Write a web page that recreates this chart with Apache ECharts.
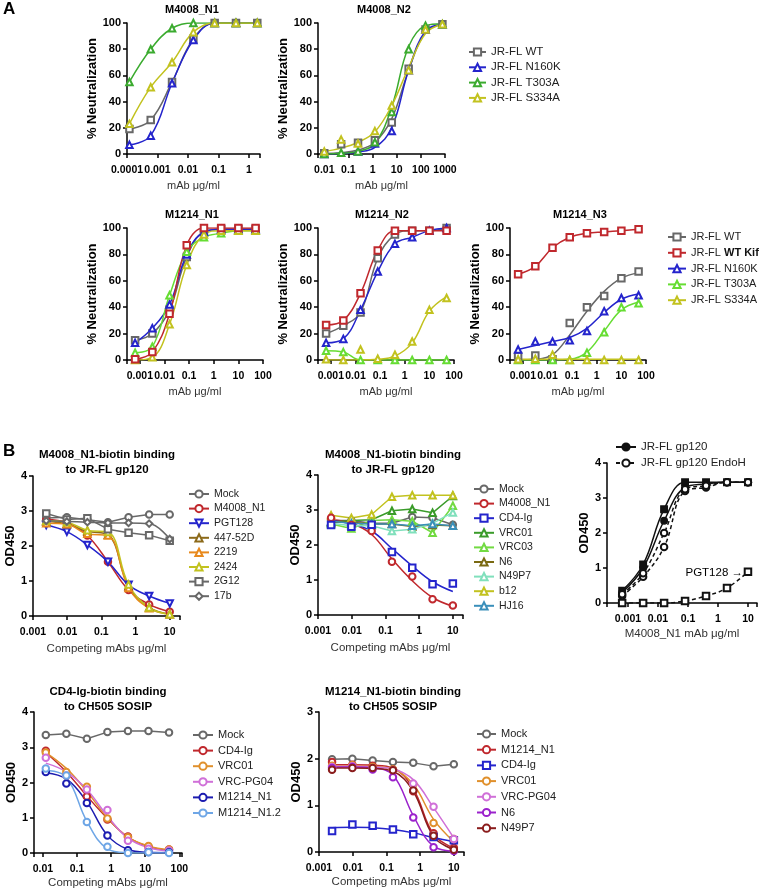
<!DOCTYPE html>
<html><head><meta charset="utf-8">
<script src="https://cdn.jsdelivr.net/npm/echarts@6/dist/echarts.min.js"></script>
<style>html,body{margin:0;padding:0;background:#fff}#c{width:763px;height:894px}</style>
</head><body><div id="c"></div>
<script>
// ================= DATA =================
// A, top-left: M4008_N1
const xM4008N1 = [0.00012, 0.0006, 0.003, 0.015, 0.075, 0.375, 1.875];
const n1WT    = [19, 26, 55, 88, 100, 100, 100];
const n1N160K = [7, 14, 54, 87, 100, 100, 100];
const n1T303A = [55, 80, 96, 100, 100, 100, 100];
const n1S334A = [23, 51, 70, 93, 100, 100, 100];
// A, top-middle: M4008_N2
const xM4008N2 = [0.01, 0.05, 0.25, 1.25, 6.25, 31.25, 156, 781];
const n2WT       = [0.5, 7.5, 8.5, 10.5, 24, 65, 95, 99];
const n2WTfit    = [0.3, 1, 3, 9, 27, 64, 93, 99];
const n2N160K    = [0, -1, 2, 8, 17.5, 64, 95, 99];
const n2N160Kfit = [0, 0.3, 1.5, 5, 20, 64, 94, 99];
const n2T303A    = [0, 1, 2, 9, 32, 80, 98, 99];
const n2T303Afit = [0, 0.5, 2, 8, 36, 82, 98, 99.5];
const n2S334A    = [2, 11, 8, 17.5, 37, 64, 95, 99];
const n2S334Afit = [2, 4.5, 9, 17, 37, 66, 92, 99];
// A, bottom row: M1214_N1 / N2 / N3
const xM1214 = [0.00064, 0.0032, 0.016, 0.08, 0.4, 2, 10, 50];
const m1WT    = [15, 20, 38, 78, 97, 99, 99, 99];
const m1Kif   = [0.5, 6, 35, 87, 100, 100, 100, 100];
const m1N160K = [13, 24, 42, 80, 97, 99, 99, 99];
const m1T303A = [5.5, 10, 49, 82, 93, 96, 98, 98];
const m1S334A = [0, 2, 27, 72, 95, 98, 98, 98];
const m2WT    = [20, 26, 36, 77, 95, 98, 98, 100];
const m2Kif   = [26.5, 30, 50.5, 83, 98, 98, 98, 98];
const m2N160K = [13, 16, 38, 67, 88, 93, 98, 100];
const m2T303A = [7, 6, 0, 0, 0, 0, 0, 0];
const m2S334A = [0.5, 0, 8, 1, 4, 14, 38, 47];
const m2S334Afit = [0, 0, 0, 0.5, 3, 13, 37, 48];
const m3WT    = [3, 3.5, 0.5, 28, 40, 48.5, 62, 67];
const m3WTfit = [0, 0.5, 4, 19, 37, 52, 62, 66];
const m3Kif   = [65, 71, 85, 93, 96, 97, 98, 99];
const m3N160K = [8, 14, 14, 15, 22, 37, 47, 49];
const m3N160Kfit = [8, 11, 14, 17, 24, 36, 46, 50];
const m3T303A = [0, 0, 0, 0, 5.5, 21, 40, 43];
const m3T303Afit = [0, 0, 0, 0.5, 6, 22, 38, 44];
const m3S334A = [0.5, 1, 4, 0, 0, 0, 0, 0];
const m3S334Afit = [0.5, 0.5, 0.5, 0.5, 0.5, 0.5, 0.5, 0.5];
// B, top-left: M4008_N1-biotin binding to JR-FL gp120
const xB1 = [0.00244, 0.00977, 0.039, 0.156, 0.625, 2.5, 10];
const b1Mock  = [2.8, 2.82, 2.75, 2.68, 2.82, 2.9, 2.9];
const b1N1    = [2.76, 2.67, 2.3, 1.55, 0.74, 0.33, 0.12];
const b1PGT128 = [2.6, 2.41, 2.03, 1.55, 0.89, 0.57, 0.36];
const b1_447  = [2.7, 2.63, 2.42, 2.32, 0.85, 0.25, 0.05];
const b1_2219 = [2.65, 2.62, 2.35, 2.3, 0.8, 0.22, 0.05];
const b1_2424 = [2.72, 2.68, 2.45, 2.4, 0.9, 0.24, 0.05];
const b1_2G12 = [2.93, 2.76, 2.79, 2.48, 2.38, 2.31, 2.15];
const b1_17b  = [2.72, 2.7, 2.68, 2.66, 2.66, 2.64, 2.2];
// B, top-middle
const xB2 = [0.00244, 0.00977, 0.039, 0.156, 0.625, 2.5, 10];
const b2Mock  = [2.7, 2.7, 2.62, 2.62, 2.8, 2.78, 2.58];
const b2N1    = [2.78, 2.57, 2.4, 1.52, 1.1, 0.45, 0.27];
const b2N1fit = [2.72, 2.62, 2.3, 1.6, 0.98, 0.5, 0.25];
const b2CD4   = [2.57, 2.52, 2.58, 1.8, 1.35, 0.88, 0.9];
const b2CD4fit = [2.7, 2.6, 2.4, 1.9, 1.4, 0.95, 0.67];
const b2VRC01 = [2.65, 2.7, 2.72, 2.98, 3.03, 2.92, 3.4];
const b2VRC03 = [2.6, 2.47, 2.7, 2.72, 2.68, 2.35, 3.12];
const b2N6    = [2.65, 2.65, 2.6, 2.6, 2.53, 2.57, 2.55];
const b2N49P7 = [2.62, 2.55, 2.55, 2.4, 2.45, 2.62, 2.93];
const b2b12   = [2.85, 2.77, 2.87, 3.38, 3.42, 3.42, 3.42];
const b2HJ16  = [2.68, 2.62, 2.6, 2.6, 2.55, 2.6, 2.55];
// B, top-right
const xB3 = [0.00064, 0.0032, 0.016, 0.08, 0.4, 2, 10];
const b3gp120a = [0.3, 1.0, 2.35, 3.3, 3.4, 3.45, 3.45];
const b3gp120b = [0.35, 1.1, 2.68, 3.45, 3.45, 3.45, 3.45];
const b3endoA  = [0.2, 0.75, 1.6, 3.2, 3.3, 3.45, 3.45];
const b3endoB  = [0.25, 0.85, 2.0, 3.25, 3.35, 3.45, 3.45];
const b3PGT128 = [0, 0, 0, 0.06, 0.2, 0.43, 0.89];
// B, bottom-left: CD4-Ig-biotin binding to CH505 SOSIP
const xB4 = [0.0122, 0.0488, 0.195, 0.781, 3.125, 12.5, 50];
const b4Mock  = [3.35, 3.38, 3.24, 3.43, 3.46, 3.46, 3.42];
const b4CD4   = [2.9, 2.2, 1.6, 0.95, 0.47, 0.18, 0.1];
const b4CD4fit = [2.85, 2.3, 1.62, 0.98, 0.45, 0.18, 0.08];
const b4VRC01 = [2.85, 2.3, 1.88, 0.98, 0.45, 0.2, 0.1];
const b4VRC01fit = [2.85, 2.4, 1.75, 1.0, 0.45, 0.2, 0.09];
const b4PG04  = [2.7, 2.2, 1.8, 1.22, 0.35, 0.12, 0.07];
const b4PG04fit = [2.55, 2.3, 1.8, 1.05, 0.42, 0.15, 0.06];
const b4M1214 = [2.3, 1.97, 1.42, 0.5, 0.08, 0.03, 0.02];
const b4M1214fit = [2.28, 2.1, 1.45, 0.5, 0.1, 0.02, 0.01];
const b4M12142 = [2.4, 2.2, 0.88, 0.18, 0.0, 0.02, 0.0];
const b4M12142fit = [2.35, 2.15, 0.9, 0.12, 0.01, 0, 0];
// B, bottom-right: M1214_N1-biotin binding to CH505 SOSIP
const xB5 = [0.00244, 0.00977, 0.039, 0.156, 0.625, 2.5, 10];
const b5Mock  = [1.99, 2.0, 1.96, 1.93, 1.91, 1.84, 1.88];
const b5M1214 = [1.93, 1.87, 1.85, 1.77, 1.3, 0.4, 0.09];
const b5M1214fit = [1.87, 1.87, 1.86, 1.8, 1.35, 0.38, 0.08];
const b5CD4   = [0.45, 0.59, 0.56, 0.48, 0.38, 0.32, 0.25];
const b5CD4fit = [0.52, 0.53, 0.52, 0.48, 0.41, 0.31, 0.22];
const b5VRC01 = [1.85, 1.86, 1.82, 1.77, 1.45, 0.62, 0.28];
const b5VRC01fit = [1.84, 1.84, 1.83, 1.78, 1.45, 0.7, 0.22];
const b5PG04  = [1.82, 1.84, 1.8, 1.75, 1.47, 0.97, 0.28];
const b5PG04fit = [1.83, 1.83, 1.82, 1.78, 1.55, 0.95, 0.3];
const b5N6    = [1.8, 1.82, 1.77, 1.6, 0.74, 0.1, 0.02];
const b5N6fit = [1.82, 1.82, 1.8, 1.65, 0.78, 0.12, 0.02];
const b5N49P7 = [1.76, 1.8, 1.8, 1.75, 1.32, 0.35, 0.05];
const b5N49P7fit = [1.8, 1.8, 1.79, 1.73, 1.3, 0.33, 0.05];

// ================= STYLE / BUILD =================
const FONT = "'Liberation Sans', Arial, Helvetica, sans-serif";
const C = {
  gray:'#686868', blue:'#2424cc', greenA:'#3bab2f', lime:'#66dd33', yellow:'#c2c21f', red:'#c0282d',
  brown:'#8c6a1a', orange:'#e8891c', dgreen:'#3a9b2a', vgreen:'#72da42', olive:'#7a6a12', mint:'#80e0bc',
  teal:'#3a8fba', pink:'#d070d8', purple:'#9b22cc', dred:'#8a1c1c', ltblue:'#6ea6e6', navy:'#1c1cb0',
  orange2:'#e0902c', black:'#111111'
};

const option = {
  animation: false, backgroundColor: '#fff', textStyle: { fontFamily: FONT },
  grid: [], xAxis: [], yAxis: [], series: [], legend: [], graphic: []
};

function fmtLog(v) {
  const e = Math.log10(v), r = Math.round(e);
  if (Math.abs(e - r) > 1e-6) return '';
  return r >= 0 ? String(Math.round(Math.pow(10, r))) : Math.pow(10, r).toFixed(-r);
}

function addPanel(cfg) {
  const idx = option.grid.length;
  option.grid.push({ left: cfg.g[0], top: cfg.g[1], width: cfg.g[2], height: cfg.g[3] });
  option.xAxis.push({
    gridIndex: idx, type: 'log', logBase: 10, min: cfg.xr[0], max: cfg.xr[1], offset: 5,
    name: cfg.xName, nameLocation: 'middle', nameGap: cfg.xGap,
    nameTextStyle: { fontSize: cfg.xfs || 11, color: '#333', fontFamily: FONT },
    axisLine: { lineStyle: { color: '#000', width: 1.5 } },
    axisTick: { length: 4, lineStyle: { color: '#000', width: 1.5 } },
    axisLabel: { formatter: fmtLog, fontWeight: 'bold', fontSize: 10.5, color: '#000', margin: 6,
                 showMinLabel: true, showMaxLabel: true },
    splitLine: { show: false }, minorTick: { show: false }
  });
  option.yAxis.push({
    gridIndex: idx, type: 'value', min: 0, max: cfg.yMax, interval: cfg.yInt,
    name: cfg.yName, nameLocation: 'middle', nameGap: cfg.yGap,
    nameTextStyle: { fontSize: 13, fontWeight: 'bold', color: '#000', fontFamily: FONT },
    axisLine: { show: true, lineStyle: { color: '#000', width: 1.5 } },
    axisTick: { show: true, length: 4, lineStyle: { color: '#000', width: 1.5 } },
    axisLabel: { fontWeight: 'bold', fontSize: 11, color: '#000', margin: 6 },
    splitLine: { show: false }
  });
  const names = [];
  cfg.series.forEach(s => {
    const nm = s.name + '#' + idx;
    if (!s.noLegend) names.push(nm);
    const lineVals = s.fit || s.y;
    const symStyle = { color: s.color, borderColor: s.color, borderWidth: 1.4 };
    option.series.push({
      type: 'line', name: nm, xAxisIndex: idx, yAxisIndex: idx,
      data: s.x.map((v, i) => [v, lineVals[i]]),
      symbol: s.sym, symbolSize: s.size || 6.5, symbolRotate: s.rot || 0,
      showSymbol: !s.fit, showAllSymbol: true,
      smooth: s.smooth === undefined ? 0.4 : s.smooth,
      lineStyle: { color: s.color, width: 1.5, type: s.dash ? [4, 3] : 'solid' },
      itemStyle: symStyle, emphasis: { disabled: true }, silent: true, z: 2
    });
    if (s.fit) {
      option.series.push({
        type: 'line', name: nm + '_pts', xAxisIndex: idx, yAxisIndex: idx,
        data: s.x.map((v, i) => [v, s.y[i]]),
        symbol: s.sym, symbolSize: s.size || 6.5, symbolRotate: s.rot || 0,
        showSymbol: true, showAllSymbol: true,
        lineStyle: { opacity: 0 }, itemStyle: symStyle,
        emphasis: { disabled: true }, silent: true, z: 3
      });
    }
  });
  if (cfg.legend) {
    const L = cfg.legend, fs = L.fs || 11;
    option.legend.push({
      orient: 'vertical', left: L.left, top: L.top, itemWidth: L.w, itemHeight: 9,
      itemGap: L.gap, data: names, selectedMode: false, padding: 0,
      textStyle: { fontSize: fs, color: '#222', lineHeight: 12, fontFamily: FONT,
        rich: { n: { fontSize: fs, color: '#222', fontFamily: FONT }, b: { fontSize: fs, color: '#111', fontWeight: 'bold', fontFamily: FONT } } },
      formatter: n => {
        const t = n.split('#')[0];
        if (t === 'JR-FL WT Kif') return '{n|JR-FL }{b|WT Kif}';
        return t;
      }
    });
  }
}

const SQ = 'emptyRect', TR = 'emptyTriangle', CI = 'emptyCircle';

// ---- Panel A ----
addPanel({ g: [127, 23, 133, 131], xr: [0.0001, 2.3], yMax: 100, yInt: 20,
  xName: 'mAb μg/ml', xGap: 21, yName: '% Neutralization', yGap: 22,
  series: [
    { name: 'JR-FL WT', x: xM4008N1, y: n1WT, color: C.gray, sym: SQ },
    { name: 'JR-FL N160K', x: xM4008N1, y: n1N160K, color: C.blue, sym: TR },
    { name: 'JR-FL T303A', x: xM4008N1, y: n1T303A, color: C.greenA, sym: TR },
    { name: 'JR-FL S334A', x: xM4008N1, y: n1S334A, color: C.yellow, sym: TR }
  ] });
addPanel({ g: [318, 23, 127, 131], xr: [0.0055, 1000], yMax: 100, yInt: 20,
  xName: 'mAb μg/ml', xGap: 21, yName: '% Neutralization', yGap: 21,
  legend: { left: 468, top: 46, w: 17, gap: 3.3, fs: 11.5 },
  series: [
    { name: 'JR-FL WT', x: xM4008N2, y: n2WT, fit: n2WTfit, color: C.gray, sym: SQ },
    { name: 'JR-FL N160K', x: xM4008N2, y: n2N160K, fit: n2N160Kfit, color: C.blue, sym: TR },
    { name: 'JR-FL T303A', x: xM4008N2, y: n2T303A, fit: n2T303Afit, color: C.greenA, sym: TR },
    { name: 'JR-FL S334A', x: xM4008N2, y: n2S334A, fit: n2S334Afit, color: C.yellow, sym: TR }
  ] });
const gA2 = (left) => [left, 228, 136, 132];
addPanel({ g: gA2(127), xr: [0.0003, 100], yMax: 100, yInt: 20,
  xName: 'mAb μg/ml', xGap: 21, yName: '% Neutralization', yGap: 20,
  series: [
    { name: 'JR-FL WT', x: xM1214, y: m1WT, color: C.gray, sym: SQ },
    { name: 'JR-FL N160K', x: xM1214, y: m1N160K, color: C.blue, sym: TR },
    { name: 'JR-FL T303A', x: xM1214, y: m1T303A, color: C.lime, sym: TR },
    { name: 'JR-FL S334A', x: xM1214, y: m1S334A, color: C.yellow, sym: TR },
    { name: 'JR-FL WT Kif', x: xM1214, y: m1Kif, color: C.red, sym: SQ }
  ] });
addPanel({ g: gA2(318), xr: [0.0003, 100], yMax: 100, yInt: 20,
  xName: 'mAb μg/ml', xGap: 21, yName: '% Neutralization', yGap: 21,
  series: [
    { name: 'JR-FL WT', x: xM1214, y: m2WT, color: C.gray, sym: SQ },
    { name: 'JR-FL N160K', x: xM1214, y: m2N160K, color: C.blue, sym: TR },
    { name: 'JR-FL T303A', x: xM1214, y: m2T303A, color: C.lime, sym: TR },
    { name: 'JR-FL S334A', x: xM1214, y: m2S334A, fit: m2S334Afit, color: C.yellow, sym: TR },
    { name: 'JR-FL WT Kif', x: xM1214, y: m2Kif, color: C.red, sym: SQ }
  ] });
addPanel({ g: gA2(510), xr: [0.0003, 100], yMax: 100, yInt: 20,
  xName: 'mAb μg/ml', xGap: 21, yName: '% Neutralization', yGap: 19,
  legend: { left: 667, top: 231, w: 18, gap: 3.8, fs: 11 },
  series: [
    { name: 'JR-FL WT', x: xM1214, y: m3WT, fit: m3WTfit, color: C.gray, sym: SQ },
    { name: 'JR-FL WT Kif', x: xM1214, y: m3Kif, color: C.red, sym: SQ },
    { name: 'JR-FL N160K', x: xM1214, y: m3N160K, fit: m3N160Kfit, color: C.blue, sym: TR },
    { name: 'JR-FL T303A', x: xM1214, y: m3T303A, fit: m3T303Afit, color: C.lime, sym: TR },
    { name: 'JR-FL S334A', x: xM1214, y: m3S334A, fit: m3S334Afit, color: C.yellow, sym: TR }
  ] });

// ---- Panel B ----
addPanel({ g: [33, 476, 147, 140], xr: [0.001, 20], yMax: 4, yInt: 1, xfs: 11.5,
  xName: 'Competing mAbs μg/ml', xGap: 22, yName: 'OD450', yGap: 12,
  legend: { left: 188, top: 488, w: 20, gap: 2.6, fs: 10.5 },
  series: [
    { name: 'Mock', x: xB1, y: b1Mock, color: C.gray, sym: CI, smooth: false },
    { name: 'M4008_N1', x: xB1, y: b1N1, color: C.red, sym: CI },
    { name: 'PGT128', x: xB1, y: b1PGT128, color: C.blue, sym: TR, rot: 180 },
    { name: '447-52D', x: xB1, y: b1_447, color: C.brown, sym: TR },
    { name: '2219', x: xB1, y: b1_2219, color: C.orange, sym: TR },
    { name: '2424', x: xB1, y: b1_2424, color: C.yellow, sym: TR },
    { name: '2G12', x: xB1, y: b1_2G12, color: C.gray, sym: SQ, smooth: false },
    { name: '17b', x: xB1, y: b1_17b, color: C.gray, sym: 'emptyDiamond' }
  ] });
addPanel({ g: [318, 475, 145, 140], xr: [0.001, 20], yMax: 4, yInt: 1, xfs: 11.5,
  xName: 'Competing mAbs μg/ml', xGap: 22, yName: 'OD450', yGap: 14,
  legend: { left: 473, top: 483, w: 20, gap: 2.6, fs: 10.5 },
  series: [
    { name: 'Mock', x: xB2, y: b2Mock, color: C.gray, sym: CI, smooth: false },
    { name: 'M4008_N1', x: xB2, y: b2N1, fit: b2N1fit, color: C.red, sym: CI },
    { name: 'CD4-Ig', x: xB2, y: b2CD4, fit: b2CD4fit, color: C.blue, sym: SQ },
    { name: 'VRC01', x: xB2, y: b2VRC01, color: C.dgreen, sym: TR, smooth: false },
    { name: 'VRC03', x: xB2, y: b2VRC03, color: C.vgreen, sym: TR, smooth: false },
    { name: 'N6', x: xB2, y: b2N6, color: C.olive, sym: TR, smooth: false },
    { name: 'N49P7', x: xB2, y: b2N49P7, color: C.mint, sym: TR, smooth: false },
    { name: 'b12', x: xB2, y: b2b12, color: C.yellow, sym: TR, smooth: false },
    { name: 'HJ16', x: xB2, y: b2HJ16, color: C.teal, sym: TR, smooth: false }
  ] });
addPanel({ g: [607, 463, 150, 140], xr: [0.0002, 20], yMax: 4, yInt: 1, xfs: 11.5,
  xName: 'M4008_N1 mAb μg/ml', xGap: 20, yName: 'OD450', yGap: 13,
  legend: { left: 615, top: 441, w: 20, gap: 4, fs: 11.5 },
  series: [
    { name: 'JR-FL gp120', x: xB3, y: b3gp120a, color: C.black, sym: 'circle' },
    { name: 'JR-FL gp120 b', x: xB3, y: b3gp120b, color: C.black, sym: 'rect', noLegend: true },
    { name: 'JR-FL gp120 EndoH', x: xB3, y: b3endoA, color: C.black, sym: CI, dash: true },
    { name: 'JR-FL gp120 EndoH b', x: xB3, y: b3endoB, color: C.black, sym: CI, dash: true, noLegend: true },
    { name: 'PGT128', x: xB3, y: b3PGT128, color: C.black, sym: SQ, dash: true, noLegend: true }
  ] });
addPanel({ g: [34, 712, 148, 141], xr: [0.0055, 120], yMax: 4, yInt: 1, xfs: 11.5,
  xName: 'Competing mAbs μg/ml', xGap: 19, yName: 'OD450', yGap: 12,
  legend: { left: 192, top: 729, w: 20, gap: 3.6, fs: 11 },
  series: [
    { name: 'Mock', x: xB4, y: b4Mock, color: C.gray, sym: CI, smooth: false },
    { name: 'CD4-Ig', x: xB4, y: b4CD4, fit: b4CD4fit, color: C.red, sym: CI },
    { name: 'VRC01', x: xB4, y: b4VRC01, fit: b4VRC01fit, color: C.orange2, sym: CI },
    { name: 'VRC-PG04', x: xB4, y: b4PG04, fit: b4PG04fit, color: C.pink, sym: CI },
    { name: 'M1214_N1', x: xB4, y: b4M1214, fit: b4M1214fit, color: C.navy, sym: CI },
    { name: 'M1214_N1.2', x: xB4, y: b4M12142, fit: b4M12142fit, color: C.ltblue, sym: CI }
  ] });
addPanel({ g: [319, 712, 145, 140], xr: [0.001, 20], yMax: 3, yInt: 1, xfs: 11.5,
  xName: 'Competing mAbs μg/ml', xGap: 19, yName: 'OD450', yGap: 7,
  legend: { left: 476, top: 728, w: 19, gap: 3.7, fs: 11 },
  series: [
    { name: 'Mock', x: xB5, y: b5Mock, color: C.gray, sym: CI, smooth: false },
    { name: 'M1214_N1', x: xB5, y: b5M1214, fit: b5M1214fit, color: C.red, sym: CI },
    { name: 'CD4-Ig', x: xB5, y: b5CD4, fit: b5CD4fit, color: C.blue, sym: SQ },
    { name: 'VRC01', x: xB5, y: b5VRC01, fit: b5VRC01fit, color: C.orange2, sym: CI },
    { name: 'VRC-PG04', x: xB5, y: b5PG04, fit: b5PG04fit, color: C.pink, sym: CI },
    { name: 'N6', x: xB5, y: b5N6, fit: b5N6fit, color: C.purple, sym: CI },
    { name: 'N49P7', x: xB5, y: b5N49P7, fit: b5N49P7fit, color: C.dred, sym: CI }
  ] });

// ---- titles & annotations ----
function txt(t, x, y, font, align) {
  option.graphic.push({ type: 'text', x: x, y: y, silent: true,
    style: { text: t, font: font, fill: '#000', align: align || 'center', verticalAlign: 'middle',
             textAlign: align || 'center', textVerticalAlign: 'middle', lineHeight: 15 } });
}
const TA = 'bold 11px ' + FONT, TB = 'bold 11.5px ' + FONT;
txt('A', 3, 9, 'bold 17px ' + FONT, 'left');
txt('B', 3, 451, 'bold 17px ' + FONT, 'left');
txt('M4008_N1', 192, 10, TA);
txt('M4008_N2', 384, 10, TA);
txt('M1214_N1', 192, 215, TA);
txt('M1214_N2', 382, 215, TA);
txt('M1214_N3', 580, 215, TA);
txt('M4008_N1-biotin binding\nto JR-FL gp120', 107, 462, TB);
txt('M4008_N1-biotin binding\nto JR-FL gp120', 393, 462, TB);
txt('CD4-Ig-biotin binding\nto CH505 SOSIP', 108, 699, TB);
txt('M1214_N1-biotin binding\nto CH505 SOSIP', 393, 699, TB);
txt('PGT128 \u2192', 743, 573, '11.5px ' + FONT, 'right');

echarts.init(document.getElementById('c'), null, { renderer: 'canvas' }).setOption(option);
</script>
</body></html>
